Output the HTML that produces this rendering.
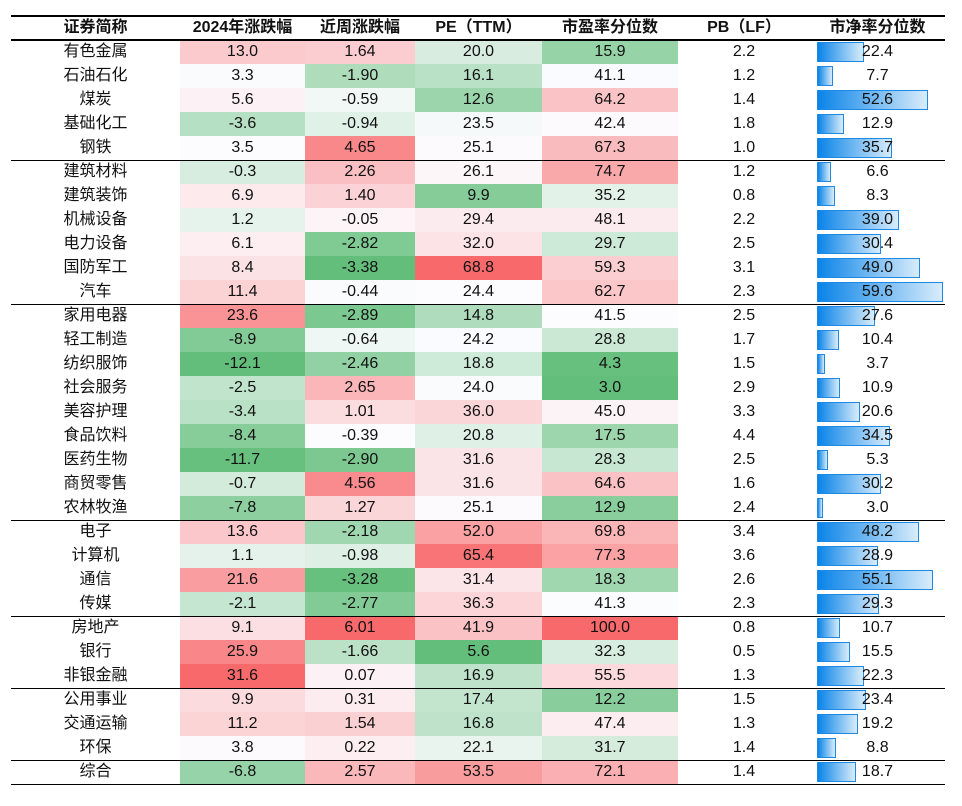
<!DOCTYPE html>
<html><head><meta charset="utf-8"><style>
body{margin:0;width:962px;height:806px;background:#fff;font-family:"Liberation Sans","Noto Sans CJK SC",sans-serif;position:relative;}
table{position:absolute;left:11px;top:16px;border-collapse:collapse;border-spacing:0;table-layout:fixed;width:934px;}
td,th{padding:0;border:0;text-align:center;font-size:16px;height:24px;line-height:24px;color:#111;white-space:nowrap;overflow:visible;}
th{font-weight:bold;}
td.b{position:relative;}
td.b div{position:absolute;left:7px;top:2px;height:18px;border:1px solid #1e88e5;background:linear-gradient(to right,#0a84e8,#d8ecfb);}
td.b span{position:relative;}
.ln{position:absolute;left:11px;width:934px;height:1.5px;background:#000;z-index:2;}
</style></head><body>
<div class="ln" style="top:14.5px;height:2px"></div>
<div class="ln" style="top:39px;height:2px"></div>
<div class="ln" style="top:159.5px"></div>
<div class="ln" style="top:303.5px"></div>
<div class="ln" style="top:519.5px"></div>
<div class="ln" style="top:615.5px"></div>
<div class="ln" style="top:687.5px"></div>
<div class="ln" style="top:759.5px"></div>
<div class="ln" style="top:783.5px"></div>
<table id="t">
<colgroup><col style="width:169px"><col style="width:125px"><col style="width:110px"><col style="width:127px"><col style="width:136px"><col style="width:132px"><col style="width:135px"></colgroup>
<tr><th>证券简称</th><th>2024年涨跌幅</th><th>近周涨跌幅</th><th>PE（TTM）</th><th>市盈率分位数</th><th>PB（LF）</th><th>市净率分位数</th></tr>
<tr><td>有色金属</td><td>13.0</td><td>1.64</td><td>20.0</td><td>15.9</td><td>2.2</td><td class="b">22.4</td></tr>
<tr><td>石油石化</td><td>3.3</td><td>-1.90</td><td>16.1</td><td>41.1</td><td>1.2</td><td class="b">7.7</td></tr>
<tr><td>煤炭</td><td>5.6</td><td>-0.59</td><td>12.6</td><td>64.2</td><td>1.4</td><td class="b">52.6</td></tr>
<tr><td>基础化工</td><td>-3.6</td><td>-0.94</td><td>23.5</td><td>42.4</td><td>1.8</td><td class="b">12.9</td></tr>
<tr><td>钢铁</td><td>3.5</td><td>4.65</td><td>25.1</td><td>67.3</td><td>1.0</td><td class="b">35.7</td></tr>
<tr><td>建筑材料</td><td>-0.3</td><td>2.26</td><td>26.1</td><td>74.7</td><td>1.2</td><td class="b">6.6</td></tr>
<tr><td>建筑装饰</td><td>6.9</td><td>1.40</td><td>9.9</td><td>35.2</td><td>0.8</td><td class="b">8.3</td></tr>
<tr><td>机械设备</td><td>1.2</td><td>-0.05</td><td>29.4</td><td>48.1</td><td>2.2</td><td class="b">39.0</td></tr>
<tr><td>电力设备</td><td>6.1</td><td>-2.82</td><td>32.0</td><td>29.7</td><td>2.5</td><td class="b">30.4</td></tr>
<tr><td>国防军工</td><td>8.4</td><td>-3.38</td><td>68.8</td><td>59.3</td><td>3.1</td><td class="b">49.0</td></tr>
<tr><td>汽车</td><td>11.4</td><td>-0.44</td><td>24.4</td><td>62.7</td><td>2.3</td><td class="b">59.6</td></tr>
<tr><td>家用电器</td><td>23.6</td><td>-2.89</td><td>14.8</td><td>41.5</td><td>2.5</td><td class="b">27.6</td></tr>
<tr><td>轻工制造</td><td>-8.9</td><td>-0.64</td><td>24.2</td><td>28.8</td><td>1.7</td><td class="b">10.4</td></tr>
<tr><td>纺织服饰</td><td>-12.1</td><td>-2.46</td><td>18.8</td><td>4.3</td><td>1.5</td><td class="b">3.7</td></tr>
<tr><td>社会服务</td><td>-2.5</td><td>2.65</td><td>24.0</td><td>3.0</td><td>2.9</td><td class="b">10.9</td></tr>
<tr><td>美容护理</td><td>-3.4</td><td>1.01</td><td>36.0</td><td>45.0</td><td>3.3</td><td class="b">20.6</td></tr>
<tr><td>食品饮料</td><td>-8.4</td><td>-0.39</td><td>20.8</td><td>17.5</td><td>4.4</td><td class="b">34.5</td></tr>
<tr><td>医药生物</td><td>-11.7</td><td>-2.90</td><td>31.6</td><td>28.3</td><td>2.5</td><td class="b">5.3</td></tr>
<tr><td>商贸零售</td><td>-0.7</td><td>4.56</td><td>31.6</td><td>64.6</td><td>1.6</td><td class="b">30.2</td></tr>
<tr><td>农林牧渔</td><td>-7.8</td><td>1.27</td><td>25.1</td><td>12.9</td><td>2.4</td><td class="b">3.0</td></tr>
<tr><td>电子</td><td>13.6</td><td>-2.18</td><td>52.0</td><td>69.8</td><td>3.4</td><td class="b">48.2</td></tr>
<tr><td>计算机</td><td>1.1</td><td>-0.98</td><td>65.4</td><td>77.3</td><td>3.6</td><td class="b">28.9</td></tr>
<tr><td>通信</td><td>21.6</td><td>-3.28</td><td>31.4</td><td>18.3</td><td>2.6</td><td class="b">55.1</td></tr>
<tr><td>传媒</td><td>-2.1</td><td>-2.77</td><td>36.3</td><td>41.3</td><td>2.3</td><td class="b">29.3</td></tr>
<tr><td>房地产</td><td>9.1</td><td>6.01</td><td>41.9</td><td>100.0</td><td>0.8</td><td class="b">10.7</td></tr>
<tr><td>银行</td><td>25.9</td><td>-1.66</td><td>5.6</td><td>32.3</td><td>0.5</td><td class="b">15.5</td></tr>
<tr><td>非银金融</td><td>31.6</td><td>0.07</td><td>16.9</td><td>55.5</td><td>1.3</td><td class="b">22.3</td></tr>
<tr><td>公用事业</td><td>9.9</td><td>0.31</td><td>17.4</td><td>12.2</td><td>1.5</td><td class="b">23.4</td></tr>
<tr><td>交通运输</td><td>11.2</td><td>1.54</td><td>16.8</td><td>47.4</td><td>1.3</td><td class="b">19.2</td></tr>
<tr><td>环保</td><td>3.8</td><td>0.22</td><td>22.1</td><td>31.7</td><td>1.4</td><td class="b">8.8</td></tr>
<tr><td>综合</td><td>-6.8</td><td>2.57</td><td>53.5</td><td>72.1</td><td>1.4</td><td class="b">18.7</td></tr>
</table>
<script>
var rows=[].slice.call(document.querySelectorAll('#t tr')).slice(1);
var R=[248,105,107],W=[252,252,255],G=[99,190,123];
function mix(a,b,t){return 'rgb('+a.map(function(v,i){return Math.round(v+(b[i]-v)*t)}).join(',')+')';}
for(var c=1;c<=4;c++){
 var v=rows.map(function(r){return parseFloat(r.cells[c].textContent)});
 var s=v.slice().sort(function(a,b){return a-b});
 var mn=s[0],mx=s[s.length-1],md=s[Math.floor(s.length/2)];
 rows.forEach(function(r,i){var x=v[i],col;
  if(x>=md)col=mix(W,R,(x-md)/(mx-md));else col=mix(W,G,(md-x)/(md-mn));
  r.cells[c].style.background=col;});
}
rows.forEach(function(r){var td=r.cells[6];var x=parseFloat(td.textContent);
 var t=td.textContent;td.innerHTML='<div style="width:'+(x*2.11-2)+'px"></div><span>'+t+'</span>';});
</script>
</body></html>
